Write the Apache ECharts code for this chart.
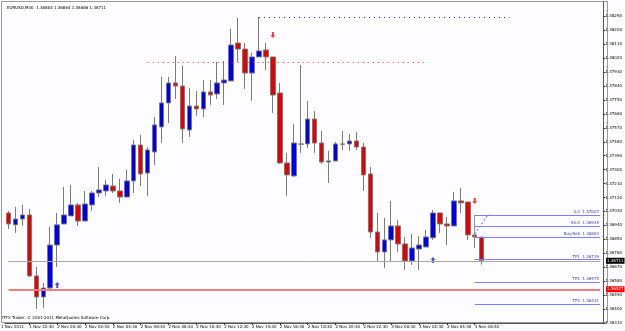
<!DOCTYPE html>
<html>
<head>
<meta charset="utf-8">
<script src="https://cdn.jsdelivr.net/npm/echarts@6/dist/echarts.min.js"></script>
<style>
  html, body { margin: 0; padding: 0; background: #fdfcfe; }
  #chart { width: 625px; height: 331px; }
</style>
</head>
<body>
<div id="chart"></div>
<script>
// EURUSD M30 candles, 1 Nov 21:00 -> 3 Nov 07:00  [open, close, low, high]
const candles = [
  [1.37020, 1.36949, 1.36917, 1.37033],
  [1.36943, 1.36981, 1.36891, 1.37059],
  [1.36981, 1.37007, 1.36936, 1.37072],
  [1.37007, 1.36613, 1.36607, 1.37046],
  [1.36613, 1.36477, 1.36400, 1.36671],
  [1.36477, 1.36535, 1.36406, 1.36568],
  [1.36535, 1.36813, 1.36529, 1.36930],
  [1.36813, 1.36943, 1.36671, 1.37020],
  [1.36949, 1.37007, 1.36949, 1.37188],
  [1.37001, 1.37072, 1.37001, 1.37201],
  [1.37072, 1.36968, 1.36936, 1.37085],
  [1.36968, 1.37078, 1.36968, 1.37162],
  [1.37072, 1.37149, 1.37033, 1.37162],
  [1.37149, 1.37169, 1.37123, 1.37317],
  [1.37162, 1.37201, 1.37130, 1.37233],
  [1.37194, 1.37162, 1.37149, 1.37272],
  [1.37162, 1.37123, 1.37085, 1.37240],
  [1.37123, 1.37227, 1.37123, 1.37298],
  [1.37227, 1.37459, 1.37149, 1.37492],
  [1.37459, 1.37272, 1.37194, 1.37524],
  [1.37278, 1.37427, 1.37130, 1.37446],
  [1.37414, 1.37589, 1.37330, 1.37640],
  [1.37576, 1.37731, 1.37472, 1.37899],
  [1.37731, 1.37860, 1.37601, 1.37899],
  [1.37860, 1.37840, 1.37757, 1.38034],
  [1.37840, 1.37563, 1.37472, 1.37970],
  [1.37556, 1.37711, 1.37511, 1.37828],
  [1.37711, 1.37692, 1.37647, 1.37808],
  [1.37692, 1.37802, 1.37640, 1.37879],
  [1.37802, 1.37782, 1.37718, 1.37879],
  [1.37789, 1.37860, 1.37757, 1.37996],
  [1.37860, 1.37879, 1.37718, 1.38002],
  [1.37873, 1.38105, 1.37873, 1.38209],
  [1.38118, 1.38079, 1.37996, 1.38280],
  [1.38079, 1.37924, 1.37821, 1.38118],
  [1.37924, 1.38028, 1.37744, 1.38054],
  [1.38028, 1.38067, 1.38028, 1.38286],
  [1.38073, 1.38028, 1.37944, 1.38118],
  [1.38028, 1.37782, 1.37666, 1.38028],
  [1.37795, 1.37343, 1.37337, 1.37860],
  [1.37343, 1.37266, 1.37130, 1.37408],
  [1.37259, 1.37472, 1.37253, 1.37595],
  [1.37466, 1.37464, 1.37408, 1.37976],
  [1.37466, 1.37627, 1.37440, 1.37744],
  [1.37627, 1.37472, 1.37408, 1.37679],
  [1.37472, 1.37349, 1.37337, 1.37550],
  [1.37349, 1.37356, 1.37214, 1.37421],
  [1.37356, 1.37466, 1.37356, 1.37479],
  [1.37466, 1.37464, 1.37427, 1.37550],
  [1.37466, 1.37485, 1.37421, 1.37530],
  [1.37485, 1.37446, 1.37427, 1.37543],
  [1.37446, 1.37266, 1.37162, 1.37472],
  [1.37272, 1.36897, 1.36859, 1.37317],
  [1.36897, 1.36768, 1.36703, 1.37020],
  [1.36768, 1.36846, 1.36665, 1.36988],
  [1.36846, 1.36936, 1.36703, 1.37098],
  [1.36936, 1.36820, 1.36768, 1.36975],
  [1.36820, 1.36710, 1.36652, 1.36865],
  [1.36710, 1.36794, 1.36684, 1.36884],
  [1.36787, 1.36813, 1.36652, 1.36871],
  [1.36800, 1.36865, 1.36800, 1.36910],
  [1.36859, 1.37020, 1.36846, 1.37039],
  [1.37020, 1.36949, 1.36891, 1.37020],
  [1.36949, 1.36936, 1.36813, 1.36994],
  [1.36936, 1.37098, 1.36936, 1.37156],
  [1.37098, 1.37085, 1.37020, 1.37182],
  [1.37091, 1.36878, 1.36846, 1.37091],
  [1.36878, 1.36865, 1.36794, 1.37007],
  [1.36864, 1.36711, 1.36686, 1.36864]
];

// signal arrows [candle index, price]
const sellArrows = [[38, 1.38170], [67, 1.37098]];
const buyArrows = [[7, 1.36555], [61, 1.36716]];

// price axis labels
const priceTicks = [1.38290, 1.38200, 1.38110, 1.38020, 1.37930, 1.37840, 1.37750, 1.37660,
  1.37570, 1.37480, 1.37390, 1.37300, 1.37210, 1.37120, 1.37030, 1.36940, 1.36850,
  1.36760, 1.36670, 1.36580, 1.36490, 1.36400, 1.36310];

// trade levels drawn from the last signal
const levelNames = ['0.0', '50.0', 'Buy/Sell', 'TP1', 'TP2', 'TP3', 'TP4'];
const levelValues = [1.37007, 1.36935, 1.36863, 1.36719, 1.36575, 1.36431, 1.36287];

const bidPrice = 1.36711;
const redLevel = 1.36527;
const highLevel = 1.38286;
const redDotLevel = 1.37996;

const totalSlots = 86;
const fmt2 = n => String(n).padStart(2, '0');
const cats = [];
const t0 = Date.UTC(2011, 10, 1, 21, 0);
for (let i = 0; i < totalSlots; i++) {
  if (i < candles.length) {
    const d = new Date(t0 + i * 1800000);
    cats.push(d.getUTCDate() + ' Nov ' + fmt2(d.getUTCHours()) + ':' + fmt2(d.getUTCMinutes()));
  } else {
    cats.push('');
  }
}
const showTick = i => i % 4 === 3 && i < candles.length;

const FONT = 'DejaVu Sans';
const lastIdx = candles.length - 2;
const rightIdx = totalSlots - 1;

const seg = (a, b, style) => [
  { coord: a, lineStyle: style, label: { show: false } },
  { coord: b }
];

const levelLines = levelNames.map((n, k) => [
  { coord: [lastIdx, levelValues[k]],
    lineStyle: { color: '#7d7dff', width: 1, type: 'solid' },
    label: { show: true, position: 'insideEndTop', formatter: n + '  ' + levelValues[k].toFixed(5),
      color: '#3a3ad0', fontSize: 4, fontFamily: FONT, distance: 1 } },
  { coord: [rightIdx, levelValues[k]] }
]);

const chart = echarts.init(document.getElementById('chart'));
chart.setOption({
  backgroundColor: '#fdfcfe',
  animation: false,
  title: {
    text: 'EURUSD,M30  1.36864 1.36864 1.36686 1.36711',
    left: 2, top: 1,
    textStyle: { fontSize: 4, fontWeight: 'normal', color: '#000', fontFamily: FONT }
  },
  grid: { left: 5, right: 18, top: 2, bottom: 8 },
  xAxis: {
    type: 'category',
    data: cats,
    boundaryGap: true,
    axisLine: { lineStyle: { color: '#555' } },
    axisTick: { show: true, interval: showTick, alignWithLabel: true, length: 2, lineStyle: { color: '#333' } },
    axisLabel: { interval: showTick, align: 'left', fontSize: 4, margin: 2, color: '#000', fontFamily: FONT },
    splitLine: { show: false }
  },
  yAxis: {
    type: 'value',
    position: 'right',
    min: 1.36309,
    max: 1.38383,
    axisLine: { show: true, lineStyle: { color: '#555' } },
    axisTick: { show: true, length: 2, customValues: priceTicks, lineStyle: { color: '#333' } },
    axisLabel: { customValues: priceTicks, fontSize: 4, margin: 2, color: '#000', fontFamily: FONT,
      formatter: v => v.toFixed(5) },
    splitLine: { show: false }
  },
  graphic: [
    { type: 'rect', silent: true, z: 0,
      shape: { x: 1.5, y: 1.5, width: 606, height: 321 },
      style: { fill: null, stroke: '#9a9a9a', lineWidth: 1 } },
    { type: 'text', left: 2, top: 316,
      style: { text: 'ITFX Trader, \u00a9 2001-2011 MetaQuotes Software Corp.', fontSize: 4, fill: '#000', fontFamily: FONT } },
    { type: 'text', left: 1, top: 325,
      style: { text: '1 Nov 2011', fontSize: 4, fill: '#000', fontFamily: FONT } }
  ],
  series: [
    {
      type: 'candlestick',
      data: candles,
      barWidth: 5,
      z: 3,
      itemStyle: {
        color: '#0000f0', color0: '#e60000',
        borderColor: '#7a7a7a', borderColor0: '#7a7a7a', borderWidth: 1
      }
    },
    {
      type: 'scatter',
      data: sellArrows,
      symbol: 'path://M3,0 L7,0 L7,6 L10,6 L5,11 L0,6 L3,6 Z',
      symbolSize: [5, 6],
      itemStyle: { color: '#ee1010' },
      silent: true,
      z: 4
    },
    {
      type: 'scatter',
      data: buyArrows,
      symbol: 'path://M5,0 L10,5 L7,5 L7,11 L3,11 L3,5 L0,5 Z',
      symbolSize: [5, 6],
      itemStyle: { color: '#2020ee' },
      silent: true,
      z: 4,
      markLine: {
        silent: true,
        symbol: 'none',
        animation: false,
        data: [
          [ { coord: [0, bidPrice], lineStyle: { color: '#a8a8a8', width: 1, type: 'solid' },
              label: { show: true, position: 'end', formatter: bidPrice.toFixed(5), color: '#fff',
                backgroundColor: '#000', fontSize: 4, padding: [1, 1], distance: 6, fontFamily: FONT } },
            { coord: [rightIdx, bidPrice] } ],
          [ { coord: [0, redLevel], lineStyle: { color: '#f27d7d', width: 2, type: 'solid' },
              label: { show: true, position: 'end', formatter: redLevel.toFixed(5), color: '#fff',
                backgroundColor: '#ff0000', fontSize: 4, padding: [1, 1], distance: 6, fontFamily: FONT } },
            { coord: [rightIdx, redLevel] } ],
          seg([36, highLevel], [72, highLevel], { color: '#1a1aff', width: 1.2, type: [1, 4] }),
          seg([20, redDotLevel], [60, redDotLevel], { color: '#ff2020', width: 1.2, type: [1, 4] }),
          seg([lastIdx, levelValues[0]], [lastIdx, levelValues[2]], { color: '#9a9a9a', width: 1, type: 'solid' }),
          seg([lastIdx, 1.36884], [lastIdx + 2, 1.37014], { color: '#5a5aff', width: 1, type: [2, 2] }),
          ...levelLines
        ]
      }
    }
  ]
});
</script>
</body>
</html>
